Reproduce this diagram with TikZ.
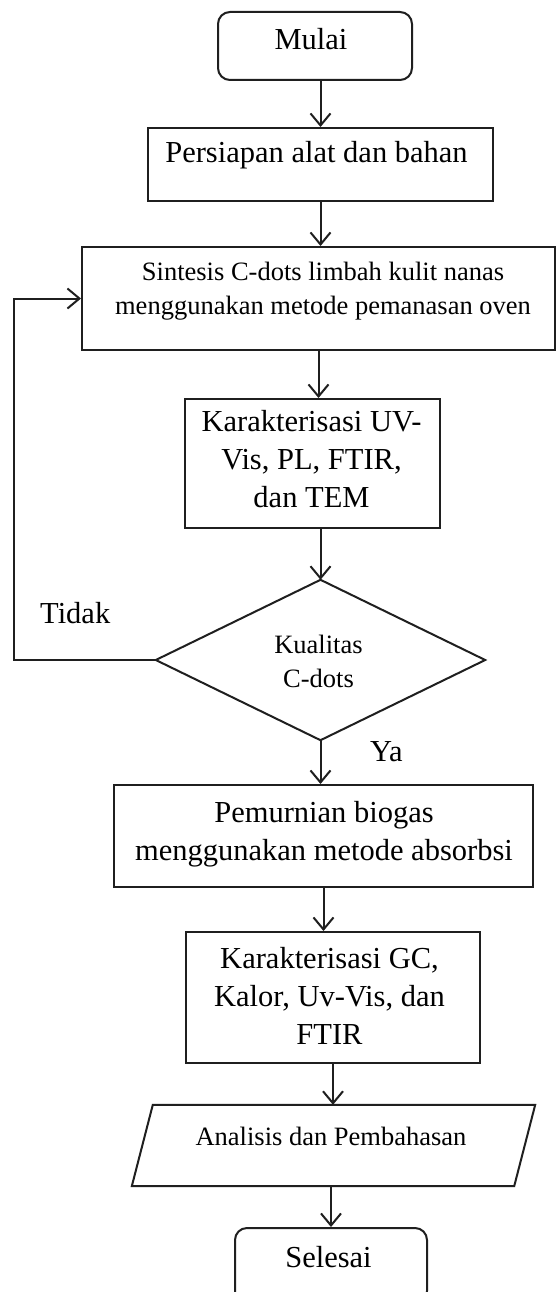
\documentclass[tikz,border=0pt]{standalone}
\usepackage{fontspec}
\setmainfont{Liberation Serif}
\usetikzlibrary{arrows.meta}
\definecolor{lc}{gray}{0.12}
\begin{document}
\begin{tikzpicture}[x=1pt,y=-1pt,
  proc/.style={draw=lc, line width=2pt, inner sep=0pt, rectangle},
  term/.style={proc, rounded corners=12pt},
  shapeline/.style={draw=lc, line width=2pt, line join=miter},
  bigtxt/.style={font=\fontsize{30.5}{38}\selectfont, inner sep=0pt, align=center},
  smalltxt/.style={font=\fontsize{26.5}{33.5}\selectfont, inner sep=0pt, align=center},
  arr/.style={draw=lc, line width=2pt, -{Straight Barb[length=12pt,width=20pt]}}]
\useasboundingbox (0,0) rectangle (557,1292);
\clip (0,0) rectangle (557,1292);
\fill[white] (0,0) rectangle (557,1292);

% shapes
\node[term, minimum width=194pt, minimum height=68pt] (mulai) at (315,46) {};
\node[proc, minimum width=345pt, minimum height=73pt] (persiapan) at (320.5,164.5) {};
\node[proc, minimum width=473pt, minimum height=103pt] (sintesis) at (318.5,298.5) {};
\node[proc, minimum width=255pt, minimum height=129pt] (uv) at (312.5,463.5) {};
% decision diamond (drawn from an invisible frame node)
\node[inner sep=0pt, minimum width=329pt, minimum height=160pt] (kual) at (320.5,660) {};
\draw[shapeline] (kual.north) -- (kual.east) -- (kual.south) -- (kual.west) -- cycle;
\node[proc, minimum width=419pt, minimum height=102pt] (pem) at (323.5,836) {};
\node[proc, minimum width=294pt, minimum height=131pt] (gc) at (333,997.5) {};
% input/output parallelogram (drawn from an invisible frame node)
\node[inner sep=0pt, minimum width=382pt, minimum height=81pt] (para) at (333.5,1145.5) {};
\draw[shapeline] ([xshift=10.5pt]para.north west) -- ([xshift=10.5pt]para.north east)
  -- ([xshift=-10.5pt]para.south east) -- ([xshift=-10.5pt]para.south west) -- cycle;
\node[term, minimum width=192pt, minimum height=75pt] (selesai) at (331,1265.5) {};

% texts
\node[bigtxt, anchor=base] (tmulai) at (311,50) {Mulai};
\node[bigtxt, anchor=base] (tpersiapan) at (316.5,163) {Persiapan alat dan bahan};
\node[smalltxt, anchor=north] (tsintesis) at (323,262) {Sintesis C-dots limbah kulit nanas\\menggunakan metode pemanasan oven};
\node[bigtxt, anchor=north] (tuv) at (311.5,410) {Karakterisasi UV-\\Vis, PL, FTIR,\\dan TEM};
\node[smalltxt, anchor=north] (tkual) at (318.5,635) {Kualitas\\C-dots};
\node[bigtxt, anchor=base west] (ttidak) at (40,623) {Tidak};
\node[bigtxt, anchor=base west] (tya) at (370,761) {Ya};
\node[bigtxt, anchor=north] (tpem) at (324,801) {Pemurnian biogas\\menggunakan metode absorbsi};
\node[bigtxt, anchor=north] (tgc) at (329.5,947) {Karakterisasi GC,\\Kalor, Uv-Vis, dan\\FTIR};
\node[smalltxt, anchor=base] (tpara) at (331,1145) {Analisis dan Pembahasan};
\node[bigtxt, anchor=base] (tselesai) at (328.5,1267) {Selesai};

% connectors
\draw[arr] (persiapan.north |- mulai.south) -- (persiapan.north);
\draw[arr] (persiapan.south) -- (persiapan.south |- sintesis.north);
\draw[arr] (sintesis.south) -- (sintesis.south |- uv.north);
\draw[arr] (kual.north |- uv.south) -- (kual.north);
\draw[arr] (kual.south) -- (kual.south |- pem.north);
\draw[arr] (pem.south) -- (pem.south |- gc.north);
\draw[arr] (gc.south) -- (gc.south |- para.north);
\draw[arr] (selesai.north |- para.south) -- (selesai.north);
\coordinate (loopc) at (14,660);
\draw[arr] (kual.west) -- (loopc) |- (sintesis.west);
\end{tikzpicture}
\end{document}
